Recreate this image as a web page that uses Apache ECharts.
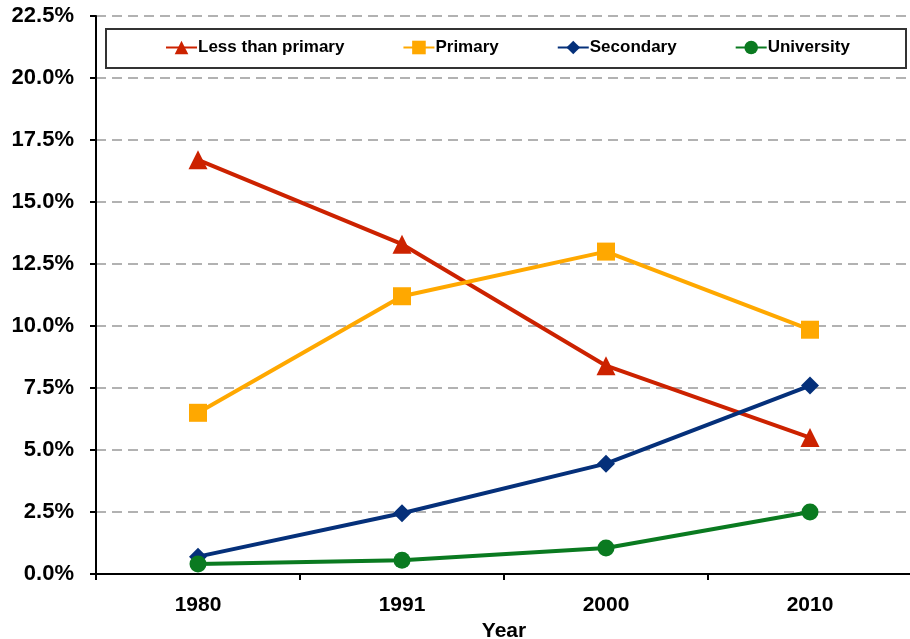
<!DOCTYPE html>
<html><head><meta charset="utf-8">
<script src="https://cdn.jsdelivr.net/npm/echarts@6/dist/echarts.min.js"></script>
<style>html,body{margin:0;padding:0;background:#fff}#c{width:910px;height:639px}</style>
</head><body><div id="c"></div>
<script>
const years = ['1980', '1991', '2000', '2010'];
const lessThanPrimary = [16.7, 13.3, 8.4, 5.5];
const primary = [6.5, 11.2, 13.0, 9.85];
const secondary = [0.7, 2.45, 4.45, 7.6];
const university = [0.4, 0.55, 1.05, 2.5];
const yTicks = [0, 2.5, 5, 7.5, 10, 12.5, 15, 17.5, 20, 22.5];

const font = 'Liberation Sans, Arial, sans-serif';
const chart = echarts.init(document.getElementById('c'));
function s(name, data, color, symbol, size) {
  return {name, type: 'line', data, color, symbol, symbolSize: size,
    lineStyle: {width: 4, color}, itemStyle: {color}, z: 3};
}
chart.setOption({
  animation: false,
  textStyle: {fontFamily: font},
  grid: {left: 96, right: -2, top: 16, bottom: 65, containLabel: false, outerBoundsMode: 'none'},
  graphic: [{type: 'rect', left: 105, top: 28, shape: {width: 800, height: 39},
    style: {fill: '#fff', stroke: '#333', lineWidth: 2}, z: 10}],
  legend: {top: 39, left: 165, padding: 0, itemGap: 58, itemWidth: 31, itemHeight: 17, z: 11,
    textStyle: {fontFamily: font, fontWeight: 'bold', fontSize: 17, color: '#000', padding: [0,0,0,-4]},
    data: ['Less than primary', 'Primary', 'Secondary', 'University']},
  xAxis: {type: 'category', data: years, boundaryGap: true,
    name: 'Year', nameLocation: 'middle', nameGap: 46,
    nameTextStyle: {fontFamily: font, fontWeight: 'bold', fontSize: 21, color: '#000'},
    axisLine: {lineStyle: {color: '#000', width: 2}},
    axisTick: {show: true, alignWithLabel: false, length: 6, lineStyle: {color: '#000', width: 2}},
    axisLabel: {fontFamily: font, fontWeight: 'bold', fontSize: 21, color: '#000', margin: 21}},
  yAxis: {type: 'value', min: 0, max: 22.5, interval: 2.5,
    axisLine: {show: true, lineStyle: {color: '#000', width: 2}},
    axisTick: {show: true, length: 6, lineStyle: {color: '#000', width: 2}},
    axisLabel: {fontFamily: font, fontWeight: 'bold', fontSize: 22, color: '#000', margin: 22,
      formatter: v => yTicks.includes(v) ? v.toFixed(1) + '%' : ''},
    splitLine: {show: true, lineStyle: {color: '#999', type: [10, 6], width: 1.5}}},
  series: [
    s('Less than primary', lessThanPrimary, '#CC2200', 'triangle', 19),
    s('Primary', primary, '#FFA800', 'rect', 18),
    s('Secondary', secondary, '#05307A', 'diamond', 18),
    s('University', university, '#0A7A20', 'circle', 17)
  ]
});
</script></body></html>
